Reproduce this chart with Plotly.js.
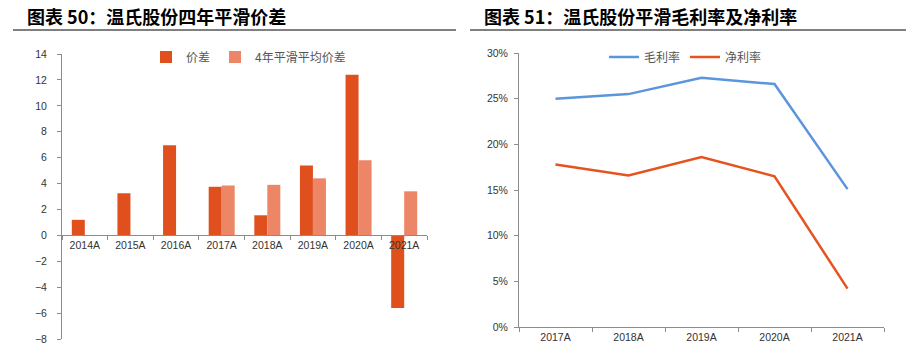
<!DOCTYPE html>
<html>
<head>
<meta charset="utf-8">
<script src="https://cdn.plot.ly/plotly-3.0.1.min.js"></script>
<style>html,body{margin:0;padding:0;background:#fff;}#chart{width:912px;height:355px;}</style>
</head>
<body>
<div id="chart"></div>
<script>
// ---- data ----
const years1 = ['2014A', '2015A', '2016A', '2017A', '2018A', '2019A', '2020A', '2021A'];
const priceSpread = [1.2, 3.25, 6.95, 3.75, 1.55, 5.4, 12.4, -5.6];
const smoothSpread = [null, null, null, 3.85, 3.9, 4.4, 5.8, 3.4];
const years2 = ['2017A', '2018A', '2019A', '2020A', '2021A'];
const grossMargin = [0.250, 0.255, 0.273, 0.266, 0.151];
const netMargin = [0.178, 0.166, 0.186, 0.165, 0.042];
const title1 = '图表 50：温氏股份四年平滑价差';
const title2 = '图表 51：温氏股份平滑毛利率及净利率';
const seriesNames1 = ['价差', '4年平滑平均价差'];
const seriesNames2 = ['毛利率', '净利率'];

const W = 912, H = 355;
const px = v => v / W;
const py = v => (H - v) / H;

const tickFont = {family: 'Liberation Sans, Arial, sans-serif', size: 10.5, color: '#333'};
const legFont = {family: 'Noto Sans CJK SC, sans-serif', size: 12, color: '#555'};
const axisGrey = '#8c8c8c';

const traces = [
  {type: 'bar', x: years1, y: priceSpread, name: seriesNames1[0], marker: {color: '#E0501E'},
   xaxis: 'x', yaxis: 'y', legend: 'legend'},
  {type: 'bar', x: years1, y: smoothSpread, name: seriesNames1[1], marker: {color: '#EC8667'},
   xaxis: 'x', yaxis: 'y', legend: 'legend'},
  {type: 'scatter', mode: 'lines', x: years2, y: grossMargin, name: seriesNames2[0],
   line: {color: '#5B95DE', width: 2.5}, xaxis: 'x2', yaxis: 'y2', legend: 'legend2'},
  {type: 'scatter', mode: 'lines', x: years2, y: netMargin, name: seriesNames2[1],
   line: {color: '#E5531F', width: 2.5}, xaxis: 'x2', yaxis: 'y2', legend: 'legend2'}
];

const yMin1 = -8, yMax1 = 14;

const layout = {
  width: W, height: H,
  margin: {l: 0, r: 0, t: 0, b: 0},
  paper_bgcolor: '#fff', plot_bgcolor: 'rgba(0,0,0,0)',
  barmode: 'group', bargap: 0.43, bargroupgap: 0,
  xaxis: {
    domain: [px(62), px(427)], anchor: 'free', position: py(339) + (py(54) - py(339)) * (0 - yMin1) / (yMax1 - yMin1),
    type: 'category', range: [-0.5, 7.5], tickson: 'boundaries',
    showline: true, linecolor: axisGrey, linewidth: 1,
    ticks: 'outside', ticklen: 4, tickcolor: axisGrey,
    tickfont: tickFont, showgrid: false, zeroline: false, fixedrange: true
  },
  yaxis: {
    domain: [py(339), py(54)], anchor: 'x', range: [yMin1, yMax1], dtick: 2,
    showline: true, linecolor: axisGrey, linewidth: 1,
    ticks: 'outside', ticklen: 4, tickcolor: axisGrey, ticklabelstandoff: 8,
    tickfont: tickFont, showgrid: false, zeroline: false, fixedrange: true
  },
  xaxis2: {
    domain: [px(519), px(884)], anchor: 'y2',
    type: 'category', range: [-0.5, 4.5], tickson: 'boundaries',
    showline: true, linecolor: axisGrey, linewidth: 1,
    ticks: 'outside', ticklen: 4, tickcolor: axisGrey,
    tickfont: tickFont, showgrid: false, zeroline: false, fixedrange: true
  },
  yaxis2: {
    domain: [py(327), py(53)], anchor: 'x2', range: [0, 0.3], dtick: 0.05, tickformat: '.0%',
    showline: true, linecolor: axisGrey, linewidth: 1,
    ticks: 'outside', ticklen: 4, tickcolor: axisGrey, ticklabelstandoff: 4,
    tickfont: tickFont, showgrid: false, zeroline: false, fixedrange: true
  },
  legend: {
    orientation: 'h', x: px(146), y: py(57), xanchor: 'left', yanchor: 'middle',
    font: legFont, bgcolor: 'rgba(0,0,0,0)', itemwidth: 30, traceorder: 'normal'
  },
  legend2: {
    orientation: 'h', x: px(604), y: py(57), xanchor: 'left', yanchor: 'middle',
    font: legFont, bgcolor: 'rgba(0,0,0,0)', itemwidth: 30, traceorder: 'normal'
  },
  annotations: [
    {text: title1, xref: 'paper', yref: 'paper', x: px(25), y: py(16), xanchor: 'left', yanchor: 'middle',
     showarrow: false, font: {family: 'Noto Sans CJK SC, sans-serif', size: 18, color: '#000', weight: 'bold'}},
    {text: title2, xref: 'paper', yref: 'paper', x: px(482), y: py(16), xanchor: 'left', yanchor: 'middle',
     showarrow: false, font: {family: 'Noto Sans CJK SC, sans-serif', size: 18, color: '#000', weight: 'bold'}}
  ],
  shapes: [
    {type: 'line', xref: 'paper', yref: 'paper', x0: px(13), x1: px(456), y0: py(30), y1: py(30), line: {color: '#000', width: 1}},
    {type: 'line', xref: 'paper', yref: 'paper', x0: px(470), x1: px(906), y0: py(30), y1: py(30), line: {color: '#000', width: 1}}
  ],
  showlegend: true
};

Plotly.newPlot('chart', traces, layout, {staticPlot: true, displayModeBar: false});
</script>
</body>
</html>
